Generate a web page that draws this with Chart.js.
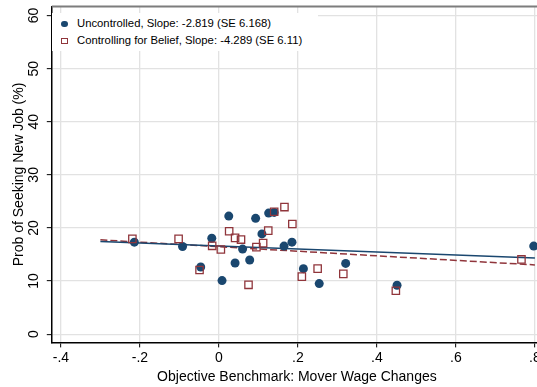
<!DOCTYPE html>
<html>
<head>
<meta charset="utf-8">
<script src="https://cdn.jsdelivr.net/npm/chart.js@4.4.1/dist/chart.umd.min.js"></script>
<style>
    html, body { margin: 0; padding: 0; overflow: hidden; background: #fff; }
    #wrap { position: relative; width: 537px; height: 387px; overflow: hidden; }
    #legend {
        position: absolute; left: 52px; top: 13px; width: 266px; height: 38px;
        background: #fff; font: 11.3px "Liberation Sans", Arial, sans-serif; color: #000;
    }
    .item { position: absolute; left: 25px; white-space: nowrap; line-height: 13px; }
    .dot { position: absolute; left: 9px; width: 6.5px; height: 6.5px; border-radius: 50%; background: #1a476f; }
    .box { position: absolute; left: 9px; width: 4.6px; height: 4.6px; border: 1.1px solid #90353b; }
</style>
</head>
<body>
<div id="wrap">
    <canvas id="chart-binscatter" width="560" height="387"></canvas>
    <div id="legend">
        <span class="dot" style="top:7.5px"></span>
        <span class="item" style="top:4.2px">Uncontrolled, Slope: -2.819 (SE 6.168)</span>
        <span class="box" style="top:24.6px"></span>
        <span class="item" style="top:21.2px">Controlling for Belief, Slope: -4.289 (SE 6.11)</span>
    </div>
</div>
<script>
// binned means
const uncontrolledX = [-0.214, -0.092, -0.046, -0.018, 0.008, 0.025, 0.041, 0.060, 0.078, 0.093,
    0.109, 0.126, 0.140, 0.165, 0.185, 0.214, 0.254, 0.321, 0.451, 0.797];
const uncontrolledY = [17.33, 16.50, 12.65, 18.07, 10.09, 22.24, 13.40, 16.02, 13.96, 21.81,
    18.88, 22.80, 22.93, 16.58, 17.33, 12.34, 9.53, 13.33, 9.21, 16.58];

const beliefX = [-0.219, -0.102, -0.049, -0.017, 0.005, 0.026, 0.041, 0.056, 0.075, 0.095,
    0.112, 0.125, 0.140, 0.166, 0.186, 0.210, 0.250, 0.315, 0.448, 0.766];
const beliefY = [17.94, 17.94, 12.09, 16.64, 15.94, 19.38, 18.13, 17.81, 9.29, 16.39,
    17.14, 19.50, 23.05, 23.93, 20.75, 10.84, 12.34, 11.35, 8.17, 14.07];

// linear fits
const fitX = [-0.3, 0.8];
const fitUncontrolled = [17.44, 14.34];
const fitBelief = [17.76, 13.04];

const xTicks = [-0.4, -0.2, 0, 0.2, 0.4, 0.6, 0.8];
const yTicks = [0, 10, 20, 30, 40, 50, 60];

const NAVY = "#1a476f";
const MAROON = "#90353b";
const FONT = '"Liberation Sans", Arial, sans-serif';

function pts(xs, ys) {
    return xs.map((x, i) => ({ x: x, y: ys[i] }));
}

function stataNum(v) {
    // Stata style: .2, -.4, 0
    const s = String(Math.round(v * 10) / 10);
    return s.replace(/^(-?)0\./, "$1.");
}

/* rotated y tick labels + top border of plot region */
const stataExtras = {
    id: "stataExtras",
    beforeDatasetsDraw(chart) {
        const ctx = chart.ctx;
        const area = chart.chartArea;
        ctx.save();
        ctx.strokeStyle = "#7d7d7d";
        ctx.lineWidth = 2;
        ctx.beginPath();
        ctx.moveTo(area.left, area.top);
        ctx.lineTo(area.right, area.top);
        ctx.stroke();
        ctx.restore();
    },
    afterDraw(chart) {
        const ctx = chart.ctx;
        const ys = chart.scales.y;
        ctx.save();
        ctx.font = "14px " + FONT;
        ctx.fillStyle = "#000";
        ctx.textAlign = "center";
        ctx.textBaseline = "middle";
        yTicks.forEach(function (v) {
            ctx.save();
            ctx.translate(ys.right - 18, ys.getPixelForValue(v));
            ctx.rotate(-Math.PI / 2);
            ctx.fillText(String(v), 0, 0);
            ctx.restore();
        });
        ctx.restore();
    },
};

new Chart(document.getElementById("chart-binscatter").getContext("2d"), {
    type: "scatter",
    data: {
        datasets: [
            {
                label: "Controlling for Belief",
                data: pts(beliefX, beliefY),
                pointStyle: "rect",
                pointRadius: 5.2,
                backgroundColor: "rgba(0,0,0,0)",
                borderColor: MAROON,
                borderWidth: 1.3,
                order: 1,
            },
            {
                label: "Uncontrolled",
                data: pts(uncontrolledX, uncontrolledY),
                pointStyle: "circle",
                pointRadius: 4.5,
                backgroundColor: NAVY,
                borderColor: NAVY,
                borderWidth: 0,
                order: 2,
            },
            {
                type: "line",
                data: pts(fitX, fitUncontrolled),
                borderColor: NAVY,
                borderWidth: 1.5,
                pointRadius: 0,
                fill: false,
                order: 3,
            },
            {
                type: "line",
                data: pts(fitX, fitBelief),
                borderColor: MAROON,
                borderWidth: 1.5,
                borderDash: [7, 3],
                pointRadius: 0,
                fill: false,
                order: 3,
            },
        ],
    },
    plugins: [stataExtras],
    options: {
        responsive: false,
        animation: false,
        layout: { padding: { top: 6, right: 18, bottom: 1, left: 6 } },
        plugins: {
            legend: { display: false },
            tooltip: { enabled: false },
        },
        scales: {
            x: {
                type: "linear",
                min: -0.423,
                max: 0.818,
                afterBuildTicks: function (s) {
                    s.ticks = xTicks.map((v) => ({ value: v }));
                },
                grid: { color: "#e2e2e2", lineWidth: 1.3, tickLength: 5, tickColor: "#000", tickWidth: 1 },
                border: { display: true, color: "#000", width: 1.5 },
                ticks: {
                    padding: 2,
                    maxRotation: 0,
                    color: "#000",
                    font: { family: FONT, size: 14 },
                    callback: (v) => stataNum(v),
                },
                title: {
                    display: true,
                    text: "Objective Benchmark: Mover Wage Changes",
                    color: "#000",
                    font: { family: FONT, size: 14 },
                    padding: { top: 1, bottom: 0 },
                },
            },
            y: {
                type: "linear",
                min: -1.55,
                max: 61.7,
                afterBuildTicks: function (s) {
                    s.ticks = yTicks.map((v) => ({ value: v }));
                },
                grid: { color: "#e2e2e2", lineWidth: 1.3, tickLength: 5, tickColor: "#000", tickWidth: 1 },
                border: { display: true, color: "#000", width: 1.5 },
                ticks: { display: false },
                title: {
                    display: true,
                    text: "Prob of Seeking New Job (%)",
                    color: "#000",
                    font: { family: FONT, size: 14 },
                    padding: { top: 5, bottom: 19 },
                },
            },
        },
    },
});
</script>
</body>
</html>
